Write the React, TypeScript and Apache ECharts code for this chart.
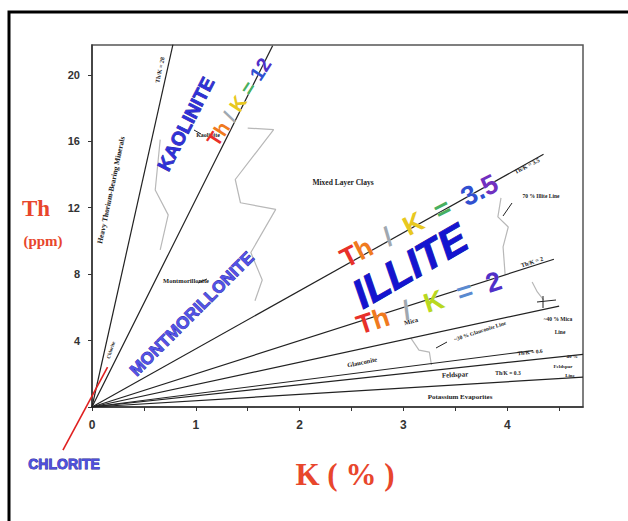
import React, { useEffect, useRef } from "react";
import * as echarts from "echarts";

// ---- data ----
const xTickValues = [0, 1, 2, 3, 4];
const yTickValues = [4, 8, 12, 16, 20];
const thkRatios = [28, 12.5, 3.5, 2, 1.35, 0.8, 0.67, 0.38];
const thkEndK = [0.78, 1.74, 4.35, 4.45, 4.5, 4.25, 4.73, 4.73];
const chloriteK = [-0.28, 0.15];
const chloriteTh = [-2.6, 2.4];
const mixedLayerK = [1.5, 1.75, 1.38, 1.43, 1.77, 1.53, 1.64, 1.57];
const mixedLayerTh = [16.8, 16.7, 13.7, 12.3, 11.9, 9.3, 7.65, 6.4];
const kaolGrayK = [0.657, 0.609, 0.734, 0.657];
const kaolGrayTh = [16.1, 13.07, 11.57, 9.46];
const illite70K = [3.94, 3.91, 4.01, 3.96, 3.98];
const illite70Th = [12.59, 11.45, 10.84, 9.64, 7.95];
const mica40K = [4.24, 4.29, 4.35];
const mica40Th = [7.53, 6.93, 6.45];
const glauc30K = [3.07, 3.15, 3.25, 3.27];
const glauc30Th = [4.16, 3.43, 3.31, 2.53];

const RED = "#e8462c";
const deg = (d: number) => (d * Math.PI) / 180;

function zip(a: number[], b: number[]) {
  return a.map((v, i) => [v, b[i]]);
}

function rainbowText(
  parts: string[],
  colors: string[],
  x: number,
  y: number,
  rot: number,
  fontSize: number
) {
  const rich: any = {};
  colors.forEach((c, i) => {
    rich["c" + i] = {
      fill: c,
      fontSize,
      fontFamily: "Liberation Sans",
      fontWeight: "bold",
      stroke: "rgba(255,255,255,0.6)",
      lineWidth: 0.5,
    };
  });
  return {
    type: "text",
    x,
    y,
    rotation: deg(rot),
    z: 20,
    style: {
      text: parts.map((p, i) => `{c${i}|${p}}`).join(""),
      rich,
      fontSize,
      fontFamily: "Liberation Sans",
      align: "center",
      verticalAlign: "middle",
    },
  };
}

function small(text: string, x: number, y: number, rot = 0, size = 6, bold = true) {
  return {
    type: "text",
    x,
    y,
    rotation: deg(rot),
    z: 15,
    style: {
      text,
      fill: "#222",
      fontSize: size,
      fontFamily: "Liberation Serif",
      fontWeight: bold ? "bold" : "normal",
      align: "center",
      verticalAlign: "middle",
    },
  };
}

function big(text: string, x: number, y: number, rot: number, size: number, fill: string, stroke: string, italic = false) {
  return {
    type: "text",
    x,
    y,
    rotation: deg(rot),
    z: 18,
    style: {
      text,
      fill,
      stroke,
      lineWidth: 0.8,
      fontSize: size,
      fontFamily: "Liberation Sans",
      fontWeight: "bold",
      fontStyle: italic ? "italic" : "normal",
      align: "center",
      verticalAlign: "middle",
    },
  };
}

function pointer(x1: number, y1: number, x2: number, y2: number) {
  return {
    type: "line",
    z: 15,
    shape: { x1, y1, x2, y2 },
    style: { stroke: "#222", lineWidth: 1 },
  };
}

export default function App() {
  const ref = useRef<HTMLDivElement>(null);

  useEffect(() => {
    if (!ref.current) return;
    const chart = echarts.init(ref.current, null, { renderer: "svg" });

    const fanSeries = thkRatios.map((r, i) => ({
      type: "line",
      name: "Th/K=" + r,
      data: [
        [0, 0],
        [thkEndK[i], thkEndK[i] * r],
      ],
      symbol: "none",
      lineStyle: { color: "#222", width: 1.2 },
      z: 5,
    }));

    const grayLine = (k: number[], th: number[]) => ({
      type: "line",
      data: zip(k, th),
      symbol: "none",
      lineStyle: { color: "#b8b8b8", width: 1.2 },
      z: 4,
    });

    chart.setOption({
      animation: false,
      backgroundColor: "#ffffff",
      grid: {
        left: 92,
        right: 45,
        top: 45,
        bottom: 114,
        show: true,
        borderColor: "#555",
        borderWidth: 1.5,
      },
      xAxis: {
        type: "value",
        min: 0,
        max: 4.73,
        interval: 0.5,
        splitLine: { show: false },
        axisLine: { lineStyle: { color: "#333", width: 1.5 } },
        axisTick: { length: 4, lineStyle: { color: "#333" } },
        axisLabel: {
          margin: 12,
          fontSize: 12,
          fontWeight: "bold",
          color: "#333",
          fontFamily: "Liberation Sans",
          showMaxLabel: false,
          formatter: (v: number) => (xTickValues.includes(v) ? String(v) : ""),
        },
      },
      yAxis: {
        type: "value",
        min: 0,
        max: 21.8,
        interval: 4,
        splitLine: { show: false },
        axisLine: { lineStyle: { color: "#333", width: 1.5 } },
        axisTick: { length: 4, lineStyle: { color: "#333" } },
        axisLabel: {
          margin: 12,
          fontSize: 11,
          fontWeight: "bold",
          color: "#333",
          fontFamily: "Liberation Sans",
          showMaxLabel: false,
          formatter: (v: number) => (yTickValues.includes(v) ? String(v) : ""),
        },
      },
      series: [
        ...fanSeries,
        grayLine(mixedLayerK, mixedLayerTh),
        grayLine(kaolGrayK, kaolGrayTh),
        grayLine(illite70K, illite70Th),
        grayLine(mica40K, mica40Th),
        grayLine(glauc30K, glauc30Th),
      ],
    });

    // chlorite pointer line, placed through the chart's own scales
    const p1 = chart.convertToPixel({ gridIndex: 0 }, [chloriteK[0], chloriteTh[0]]) as number[];
    const p2 = chart.convertToPixel({ gridIndex: 0 }, [chloriteK[1], chloriteTh[1]]) as number[];

    const rainbow12 = ["#e8302a", "#f07a20", "#a0a8b0", "#e8c820", "#48b060", "#3050d0", "#5030c8"];
    const rainbow35 = ["#e8302a", "#f07a20", "#a0a8b0", "#e8c820", "#48b060", "#3050d0", "#3050d0", "#7030c0"];
    const rainbow2 = ["#e8302a", "#f07a20", "#a0a8b0", "#b8d820", "#5a8ad0", "#5030c8"];

    chart.setOption({
      graphic: [
        {
          type: "rect",
          z: 30,
          shape: { x: 9, y: 12, width: 700, height: 600 },
          style: { fill: "none", stroke: "#000", lineWidth: 3 },
        },
        {
          type: "line",
          z: 12,
          shape: { x1: p1[0], y1: p1[1], x2: p2[0], y2: p2[1] },
          style: { stroke: "#e02020", lineWidth: 1.6 },
        },
        // axis titles
        {
          type: "text",
          x: 36,
          y: 208,
          style: {
            text: "Th",
            fill: RED,
            fontSize: 23,
            fontWeight: "bold",
            fontFamily: "Liberation Serif",
            align: "center",
            verticalAlign: "middle",
          },
        },
        {
          type: "text",
          x: 43,
          y: 241,
          style: {
            text: "(ppm)",
            fill: RED,
            fontSize: 15,
            fontWeight: "bold",
            fontFamily: "Liberation Serif",
            align: "center",
            verticalAlign: "middle",
          },
        },
        {
          type: "text",
          x: 345,
          y: 474,
          style: {
            text: "K ( % )",
            fill: RED,
            fontSize: 31,
            fontWeight: "bold",
            fontFamily: "Liberation Serif",
            align: "center",
            verticalAlign: "middle",
          },
        },
        big("CHLORITE", 64, 464, 0, 14, "#5050dc", "#1c1c90"),
        // big facies labels
        big("KAOLINITE", 186, 124, 63, 19, "#3030d8", "#1a1aa0"),
        big("MONTMORILLONITE", 192, 314, 45, 17, "#5252e6", "#22229a"),
        big("ILLITE", 410, 266, 30, 41, "#1414d0", "#0a0a90", true),
        rainbowText(["T", "h", " / ", "K", " = ", "1", "2"], rainbow12, 239, 102, 57, 20),
        rainbowText(["T", "h", "  /  ", "K", "  =  ", "3", ".", "5"], rainbow35, 419, 221, 27, 27),
        rainbowText(["T", "h", "  /  ", "K", "  =  ", "2"], rainbow2, 429, 303, 18, 27),
        // small labels
        small("Heavy Thorium-Bearing Minerals", 111, 190, 78, 7.5),
        small("Th/K = 28", 160, 70, 78, 6),
        small("Kaolinite", 208, 135, 0, 6),
        pointer(194, 130, 201, 134),
        small("Mixed Layer Clays", 343, 182, 0, 7.5),
        small("Th/K = 3.5", 527, 166, 28, 6),
        small("70 % Illite Line", 541, 196, 0, 5.5),
        pointer(512, 203, 503, 216),
        small("Th/K = 2", 532, 262, 18, 6),
        small("Montmorillonite", 186, 280, 0, 6.5),
        pointer(198, 283, 207, 279),
        small("Mica", 411, 321, 15, 6.5),
        small("~30 % Glauconite Line", 480, 331, 18, 5.5),
        pointer(447, 342, 436, 348),
        small("~40 % Mica", 558, 319, 0, 5.5),
        small("Line", 560, 332, 0, 5.5),
        pointer(543, 296, 543, 308),
        pointer(537, 302, 556, 300),
        small("Glauconite", 362, 362, 12, 6.5),
        small("Feldspar", 455, 375, 3, 7),
        small("Th/K = 0.6", 530, 352, 6, 5.5),
        small("Th/K = 0.3", 508, 373, 0, 5.5),
        small("40 %", 572, 356, 0, 5),
        small("Feldspar", 563, 366, 0, 5),
        small("Line", 570, 375, 0, 5),
        small("Potassium Evaporites", 460, 397, 0, 7),
        small("Chlorite", 111, 350, 72, 5),
      ],
    });

    return () => chart.dispose();
  }, []);

  return (
    <div
      ref={ref}
      style={{ position: "fixed", left: 0, top: 0, width: 628, height: 521, background: "#fff" }}
    />
  );
}
